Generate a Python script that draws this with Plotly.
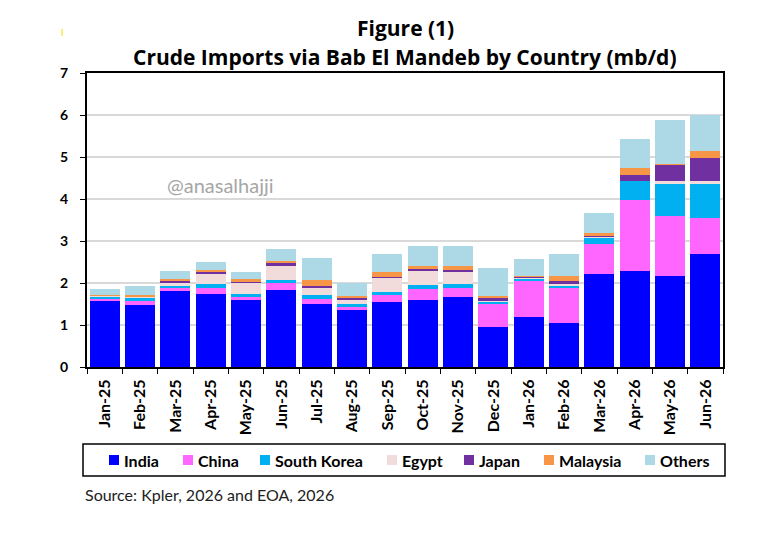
import plotly.graph_objects as go

months = ["Jan-25", "Feb-25", "Mar-25", "Apr-25", "May-25", "Jun-25", "Jul-25",
          "Aug-25", "Sep-25", "Oct-25", "Nov-25", "Dec-25", "Jan-26", "Feb-26",
          "Mar-26", "Apr-26", "May-26", "Jun-26"]

india = [1.58, 1.48, 1.81, 1.73, 1.60, 1.84, 1.50, 1.36, 1.54, 1.60, 1.67, 0.95,
         1.20, 1.05, 2.22, 2.28, 2.16, 2.70]
china = [0.05, 0.09, 0.07, 0.16, 0.06, 0.15, 0.13, 0.07, 0.18, 0.25, 0.21, 0.55,
         0.87, 0.85, 0.72, 1.70, 1.43, 0.85]
south_korea = [0.06, 0.08, 0.06, 0.08, 0.09, 0.08, 0.08, 0.07, 0.07, 0.10, 0.10, 0.05,
               0.04, 0.02, 0.12, 0.45, 0.76, 0.81]
egypt = [0.01, 0.02, 0.07, 0.24, 0.25, 0.34, 0.18, 0.10, 0.34, 0.35, 0.28, 0.02,
         0.01, 0.06, 0.05, 0.00, 0.09, 0.06]
japan = [0.00, 0.00, 0.05, 0.05, 0.03, 0.07, 0.05, 0.05, 0.02, 0.03, 0.05, 0.07,
         0.03, 0.06, 0.03, 0.14, 0.37, 0.56]
malaysia = [0.01, 0.05, 0.04, 0.06, 0.07, 0.04, 0.12, 0.04, 0.11, 0.08, 0.09, 0.05,
            0.02, 0.13, 0.04, 0.17, 0.02, 0.17]
others = [0.15, 0.20, 0.18, 0.17, 0.16, 0.29, 0.54, 0.32, 0.42, 0.46, 0.48, 0.66,
          0.39, 0.51, 0.48, 0.68, 1.05, 0.86]

series = [
    ("India", india, "#0000FF"),
    ("China", china, "#FF66FF"),
    ("South Korea", south_korea, "#00B0F0"),
    ("Egypt", egypt, "#F2DCDB"),
    ("Japan", japan, "#7030A0"),
    ("Malaysia", malaysia, "#F79646"),
    ("Others", others, "#ADD8E6"),
]

# plot area in screen pixels: x 87..723, y 73..367
PX0, PW, PY0, PH = 87, 636, 367, 294


def px(sx):
    return (sx - PX0) / PW


def py(sy):
    return (PY0 - sy) / PH


fig = go.Figure()
for name, vals, col in series:
    fig.add_trace(go.Bar(x=months, y=vals, name=name, marker_color=col,
                         marker_line_width=0, showlegend=False))

# page body has an 8px margin, so the figure is a bit smaller than the window
fig.update_layout(
    barmode="stack",
    bargap=0.15,
    width=762, height=534,
    margin=dict(l=79, r=47, t=65, b=175),
    paper_bgcolor="white", plot_bgcolor="white",
    font=dict(family="Lato", color="black"),
)

fig.update_yaxes(range=[0, 7], dtick=1, showgrid=True, gridcolor="#D9D9D9", gridwidth=1.5,
                 showline=True, linecolor="black", linewidth=2, mirror=True,
                 ticks="outside", ticklen=5, tickcolor="black", ticklabelstandoff=9,
                 tickfont=dict(size=14, family="Lato", weight="bold"), zeroline=False)
fig.update_xaxes(showline=True, linecolor="black", linewidth=2, mirror=True,
                 ticks="outside", ticklen=5, tickcolor="black", tickson="boundaries",
                 ticklabelstandoff=4,
                 tickangle=-90, tickfont=dict(size=16, family="Lato", weight="bold"))

# title lines
fig.add_annotation(text="<b>Figure (1)</b>", xref="paper", yref="paper", x=0.5, y=1.0,
                   yanchor="middle", yshift=45, showarrow=False,
                   font=dict(size=21, family="Open Sans"))
fig.add_annotation(text="<b>Crude Imports via Bab El Mandeb by Country (mb/d)</b>",
                   xref="paper", yref="paper", x=0.5, y=1.0, yanchor="middle", yshift=16,
                   showarrow=False, font=dict(size=21, family="Open Sans"))

# small yellow mark top-left
fig.add_shape(type="rect", xref="paper", yref="paper", x0=px(61), x1=px(63),
              y0=py(36), y1=py(29), fillcolor="#F5F07A", line_width=0)

# watermark
fig.add_annotation(text="@anasalhajji", xref="paper", yref="paper", x=px(165), y=py(185),
                   xanchor="left", yanchor="middle", showarrow=False,
                   font=dict(size=20, family="Lato", color="#A6A6A6"))

# legend: framed box with one row of square keys (spaced like the original)
fig.add_shape(type="rect", xref="paper", yref="paper", x0=px(83), x1=px(725),
              y0=py(476), y1=py(444), line=dict(color="black", width=1.5))
legend_text_x = [122, 196, 273, 400, 477, 557, 658]
for (name, _, col), tx in zip(series, legend_text_x):
    fig.add_shape(type="rect", xref="paper", yref="paper",
                  x0=px(tx - 13), x1=px(tx - 3), y0=py(465), y1=py(455),
                  fillcolor=col, line_width=0)
    fig.add_annotation(text=f"<b>{name}</b>", xref="paper", yref="paper",
                       x=px(tx), y=py(460), xanchor="left", yanchor="middle",
                       showarrow=False, font=dict(size=16, family="Lato"))

# source
fig.add_annotation(text="Source: Kpler, 2026 and EOA, 2026", xref="paper", yref="paper",
                   x=px(83), y=py(494), xanchor="left", yanchor="middle", showarrow=False,
                   font=dict(size=16, family="Lato", color="#222222"))

fig.write_html("out.html")
